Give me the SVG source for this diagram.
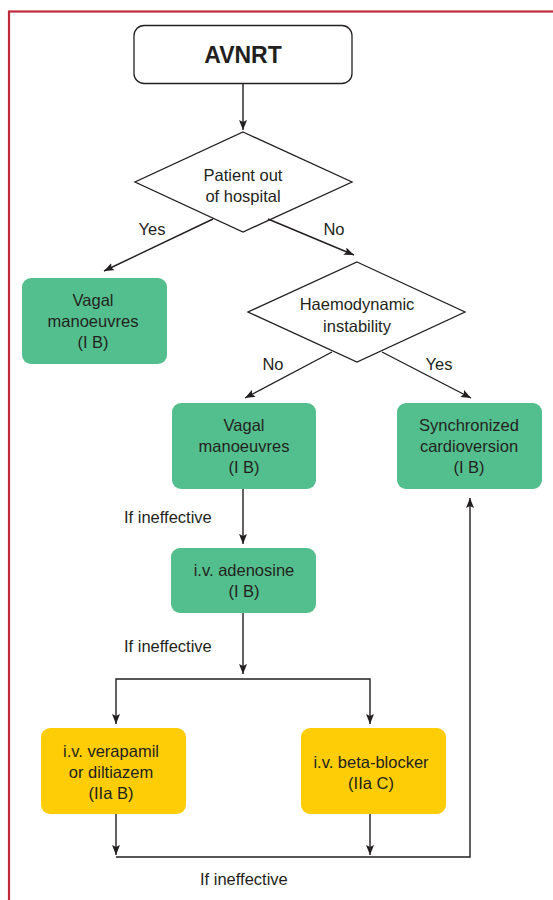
<svg xmlns="http://www.w3.org/2000/svg" width="553" height="900" viewBox="0 0 553 900">
<style>
text{font-family:"Liberation Sans",Arial,sans-serif;font-size:16.5px;fill:#231f20;text-anchor:middle}
.lbl{text-anchor:start}
.green{fill:#54bf8e}
.yellow{fill:#ffcd05}
.dia{fill:#fff;stroke:#231f20;stroke-width:1.3}
.con{fill:none;stroke:#231f20;stroke-width:1.4}
</style>
<defs>
<marker id="ah" viewBox="0 0 10 8" refX="10" refY="4" markerWidth="10" markerHeight="8" markerUnits="userSpaceOnUse" orient="auto">
<path d="M0,0 L10,4 L0,8 L2,4 z" fill="#231f20"/>
</marker>
</defs>
<rect x="9" y="11.5" width="560" height="900" fill="none" stroke="#be2a3e" stroke-width="2.2"/>

<g id="avnrt">
<rect x="134" y="25.5" width="218" height="58" rx="10" fill="#fff" stroke="#231f20" stroke-width="1.3"/>
<text x="243" y="63" style="font-weight:bold;font-size:23px">AVNRT</text>
</g>

<g id="d1">
<polygon class="dia" points="243,132 352,182 243,232 135,182"/>
<text x="243" y="181">Patient out</text>
<text x="243" y="202">of hospital</text>
</g>

<g id="vagal1">
<rect class="green" x="22" y="278" width="145" height="86" rx="9"/>
<text x="93" y="306">Vagal</text>
<text x="93" y="327">manoeuvres</text>
<text x="93" y="348">(I B)</text>
</g>

<g id="d2">
<polygon class="dia" points="357,262 465,312 357,362 248,312"/>
<text x="357" y="310">Haemodynamic</text>
<text x="357" y="332">instability</text>
</g>

<g id="vagal2">
<rect class="green" x="172" y="403" width="144" height="86" rx="9"/>
<text x="244" y="431">Vagal</text>
<text x="244" y="452">manoeuvres</text>
<text x="244" y="473">(I B)</text>
</g>

<g id="cardio">
<rect class="green" x="397" y="403" width="145" height="86" rx="9"/>
<text x="469" y="431">Synchronized</text>
<text x="469" y="452">cardioversion</text>
<text x="469" y="473">(I B)</text>
</g>

<g id="adenosine">
<rect class="green" x="171" y="548" width="145" height="65" rx="9"/>
<text x="244" y="576">i.v. adenosine</text>
<text x="244" y="597">(I B)</text>
</g>

<g id="verapamil">
<rect class="yellow" x="41" y="728" width="145" height="86" rx="9"/>
<text x="111" y="757">i.v. verapamil</text>
<text x="111" y="778">or diltiazem</text>
<text x="111" y="799">(IIa B)</text>
</g>

<g id="betablocker">
<rect class="yellow" x="301" y="728" width="145" height="86" rx="9"/>
<text x="371" y="768">i.v. beta-blocker</text>
<text x="371" y="789">(IIa C)</text>
</g>

<g id="connectors">
<path class="con" d="M243,84 V130" marker-end="url(#ah)"/>
<path class="con" d="M213,219 L104,271" marker-end="url(#ah)"/>
<path class="con" d="M268,219 L354,255" marker-end="url(#ah)"/>
<path class="con" d="M332,352 L245,398" marker-end="url(#ah)"/>
<path class="con" d="M382,352 L471,398" marker-end="url(#ah)"/>
<path class="con" d="M243,489 V544" marker-end="url(#ah)"/>
<path class="con" d="M243,613 V674" marker-end="url(#ah)"/>
<path class="con" d="M243,679 H116 V724" marker-end="url(#ah)"/>
<path class="con" d="M243,679 H370 V724" marker-end="url(#ah)"/>
<path class="con" d="M116,814 V855" marker-end="url(#ah)"/>
<path class="con" d="M370,814 V855" marker-end="url(#ah)"/>
<path class="con" d="M116,857 H470 V498" marker-end="url(#ah)"/>
<text x="152" y="235">Yes</text>
<text x="334" y="235">No</text>
<text x="273" y="370">No</text>
<text x="439" y="370">Yes</text>
<text class="lbl" x="124" y="523">If ineffective</text>
<text class="lbl" x="124" y="652">If ineffective</text>
<text class="lbl" x="200" y="885">If ineffective</text>
</g>
</svg>
